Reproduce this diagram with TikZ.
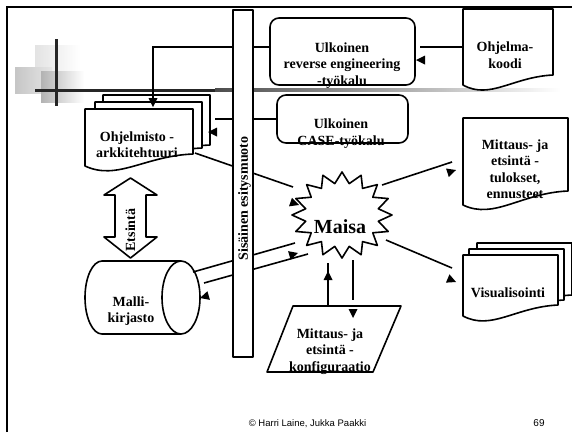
\documentclass[tikz,border=0pt]{standalone}
\usepackage{fontspec}
\setmainfont{Liberation Serif}
\newfontfamily\footfont{Liberation Sans}
\usetikzlibrary{arrows.meta}
% document shape: x1, ytop, x2, y left bottom, y right bottom
\newcommand\docshape[5]{%
  \draw[shp] (#1,#4) -- (#1,#2) -- (#3,#2) -- (#3,#5)
    .. controls ({#1+0.55*(#3-#1)},{#5+2}) and ({#1+0.3*(#3-#1)},{#4+15}) .. (#1,#4) -- cycle;}
% filled arrow tip: x, y, direction angle (pixel coords, y down)
\newcommand\arrtip[3]{%
  \fill ({#1},{#2}) -- ({#1-9*cos(#3)-4.5*sin(#3)},{#2-9*sin(#3)+4.5*cos(#3)})
     -- ({#1-9*cos(#3)+4.5*sin(#3)},{#2-9*sin(#3)-4.5*cos(#3)}) -- cycle;}
\begin{document}
\begin{tikzpicture}[x=1pt,y=-1pt,
  shp/.style={line width=1.6pt,fill=white,line join=round},
  ln/.style={line width=1.6pt},
  lbl/.style={font=\fontsize{14}{16.5}\selectfont\bfseries,align=center,inner sep=0pt},
  foot/.style={font=\footfont\fontsize{9.5}{11}\selectfont,inner sep=0pt}]
\useasboundingbox (0,0) rectangle (572,432);
\fill[white] (0,0) rectangle (572,432);
% frame
\draw[line width=1.8pt] (7,432) -- (7,7) -- (572,7);
% decoration
\shade[left color=gray!22,right color=white] (35,45) rectangle (80,90);
\shade[left color=gray!45,right color=gray!20] (15,67) rectangle (52,93);
\shade[left color=gray!60,right color=white] (41,71) rectangle (84,102);
\fill[black!85] (35,88.5) rectangle (215,91.5);
\shade[left color=black!70,right color=white] (215,88.5) rectangle (560,91.5);
\fill[black!85] (54.5,39) rectangle (57.5,106);

% ---- shapes ----
% reverse engineering tool
\draw[shp,rounded corners=9pt] (270,18) rectangle (415,85);
% CASE tool
\draw[shp,rounded corners=9pt] (277,95) rectangle (408,143);
% Ohjelmakoodi
\docshape{463}{9}{553}{85}{75}
% Mittaus- ja etsintätulokset
\docshape{463}{118}{568}{205}{191}
% Ohjelmistoarkkitehtuuri (stack)
\docshape{103}{95}{210}{155}{145}
\docshape{95}{102}{202}{160}{148}
\docshape{85}{109}{193}{166}{154}
% Visualisointi (stack)
\docshape{477}{243}{572}{304}{295}
\docshape{469}{249}{564}{310}{300}
\docshape{463}{255}{558}{316}{305}
% Etsintä double arrow
\draw[shp] (130.5,178) -- (157,195) -- (146,195) -- (146,237) -- (157,237) -- (130.5,258)
  -- (104,237) -- (115,237) -- (115,195) -- (104,195) -- cycle;
% Mallikirjasto cylinder
\draw[shp] (181,261) -- (102,261) arc[start angle=90,end angle=270,x radius=17pt,y radius=36.5pt] -- (181,334);
\draw[shp] (181,297.5) ellipse[x radius=19pt,y radius=36.5pt];
% konfiguraatio parallelogram
\draw[shp] (293,306) -- (401,306) -- (373,372) -- (267,372) -- cycle;
% Maisa star
\draw[shp] plot[samples at={0,...,31}]
  ({342+(50-13*mod(\x,2))*cos(-90+11.25*\x)},{215+(43-11*mod(\x,2))*sin(-90+11.25*\x)}) -- cycle;

% ---- connectors ----
\coordinate (revW) at (270,47);
\coordinate (revBend) at (153,47);
\coordinate (arkTop) at (153,100);
\draw[ln] (revW) -- (revBend) -- (arkTop);
\coordinate (caseW) at (277,119);
\coordinate (arkE) at (215,119);
\draw[ln] (caseW) -- (arkE);
\coordinate (arkSE) at (195,153);
\coordinate (maisaNW) at (293,187);
\draw[ln] (arkSE) -- (maisaNW);
\coordinate (libNE) at (193,272);
\coordinate (maisaW) at (295,243);
\draw[ln] (libNE) -- (maisaW);
\coordinate (maisaSW) at (308,254);
\coordinate (libE) at (204,283);
\draw[ln] (maisaSW) -- (libE);
\coordinate (codeW) at (463,47);
\coordinate (revE) at (420,47);
\draw[ln] (codeW) -- (revE);
\coordinate (maisaNE) at (382,185);
\coordinate (resW) at (452,162);
\draw[ln] (maisaNE) -- (resW);
\coordinate (maisaSE) at (386,240);
\coordinate (visW) at (452,268);
\draw[ln] (maisaSE) -- (visW);
\coordinate (cfgTopL) at (328,305);
\coordinate (maisaS1) at (328,263);
\draw[ln] (cfgTopL) -- (maisaS1);
\coordinate (maisaS2) at (353,260);
\coordinate (cfgTopR) at (353,300);
\draw[ln] (maisaS2) -- (cfgTopR);

% ---- vertical bar ----
\draw[shp] (233,10) rectangle (253,357);
\node[lbl,rotate=90] (bar) at (244.5,198.5) {Sisäinen esitysmuoto};

% ---- labels ----
\node[lbl] (revT) at (342,65.3) {Ulkoinen\\reverse engineering\\-työkalu};
\node[lbl] (caseT) at (341,133.5) {Ulkoinen\\CASE-työkalu};
\node[lbl] (codeT) at (505,55.3) {Ohjelma-\\koodi};
\node[lbl] (resT) at (515,169) {Mittaus- ja\\etsintä -\\tulokset,\\ennusteet};
\node[lbl] (arkT) at (137,144.5) {Ohjelmisto -\\arkkitehtuuri};
\node[lbl] (libT) at (131,311.3) {Malli-\\kirjasto};
\node[lbl] (visT) at (508,292.3) {Visualisointi};
\node[lbl] (cfgT) at (330,351.4) {Mittaus- ja\\etsintä -\\konfiguraatio};
\node[font=\fontsize{20}{24}\selectfont\bfseries,inner sep=0pt] (maisa) at (340,226.4) {Maisa};
\node[lbl,rotate=90] (etsT) at (130.3,230) {Etsintä};
\node[foot] (copy) at (307.5,423.5) {© Harri Laine, Jukka Paakki};
\node[foot,font=\footfont\fontsize{10}{12}\selectfont] (page) at (539,423.5) {69};

% ---- arrow tips ----
\arrtip{416}{60}{180}
\arrtip{153}{107}{90}
\arrtip{208}{132}{180}
\arrtip{299}{205}{19}
\arrtip{456}{170}{-18}
\arrtip{456}{282}{23}
\arrtip{298}{253}{-16}
\arrtip{200}{298}{164}
\arrtip{328}{271}{-90}
\arrtip{353}{318}{90}
\end{tikzpicture}
\end{document}
